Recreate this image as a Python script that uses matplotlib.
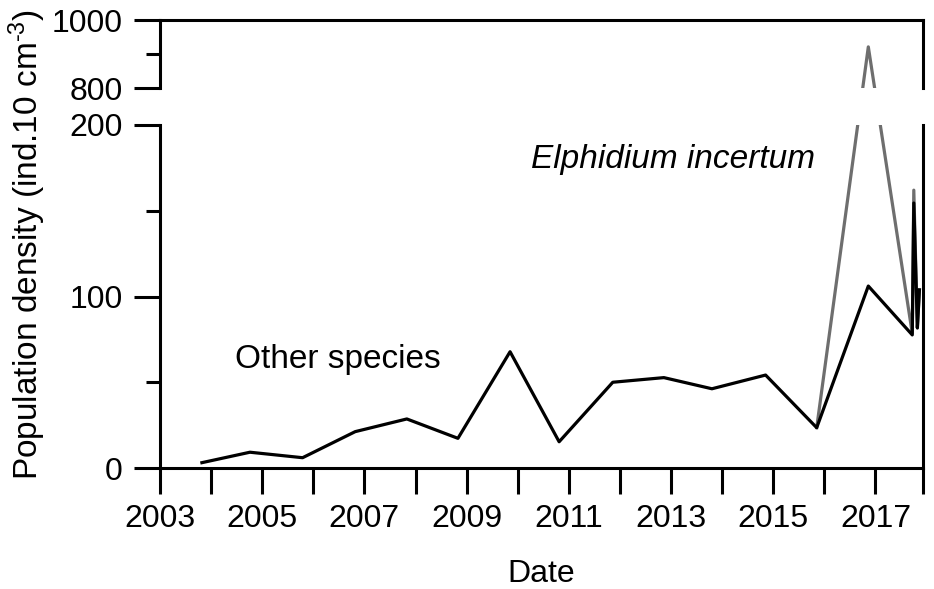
#!/usr/bin/env python3
"""Broken-axis population density time series (Other species vs Elphidium incertum)."""

import matplotlib
matplotlib.use("Agg")
import matplotlib.pyplot as plt
import numpy as np
from matplotlib.ticker import FixedLocator

plt.rcParams["font.family"] = ["Liberation Sans", "DejaVu Sans"]
plt.rcParams["mathtext.fontset"] = "custom"
plt.rcParams["mathtext.rm"] = "Liberation Sans"
plt.rcParams["mathtext.it"] = "Liberation Sans:italic"

# Sampling dates (decimal years) and densities (ind.10 cm-3)
other_dates = [2003.82, 2004.76, 2005.79, 2006.82, 2007.83, 2008.83, 2009.85,
               2010.81, 2011.86, 2012.86, 2013.80, 2014.85, 2015.85, 2016.86,
               2017.72, 2017.75, 2017.82, 2017.86]
other_density = [3.1, 9.2, 6.0, 21.2, 28.6, 17.3, 67.8, 15.3, 50.0, 52.7,
                 46.2, 54.2, 23.5, 106.1, 77.6, 154.5, 81.6, 103.8]

total_dates = [2015.85, 2016.86, 2017.72, 2017.75, 2017.82, 2017.86]
total_density = [23.5, 921.0, 78.5, 162.0, 82.0, 104.0]

year_ticks = list(range(2003, 2018))
year_labels = [str(y) if y % 2 == 1 else "" for y in year_ticks]
x_end = 2017.93

LW = 2.3
GREY = "#6e6e6e"
FS_TICK = 23
FS_LABEL = 23
FS_NOTE = 24

# pixel geometry of the broken axis: 0-200 -> 343 px, gap 37 px, 800-1000 -> 68 px
LOW_PX, GAP_PX, HIGH_PX = 343.0, 37.0, 68.0


def fwd(v):
    v = np.asarray(v, dtype=float)
    return np.where(v <= 200, v * LOW_PX / 200,
                    np.where(v < 800, LOW_PX + (v - 200) * GAP_PX / 600,
                             LOW_PX + GAP_PX + (v - 800) * HIGH_PX / 200))


def inv(p):
    p = np.asarray(p, dtype=float)
    return np.where(p <= LOW_PX, p * 200 / LOW_PX,
                    np.where(p < LOW_PX + GAP_PX,
                             200 + (p - LOW_PX) * 600 / GAP_PX,
                             800 + (p - LOW_PX - GAP_PX) * 200 / HIGH_PX))


fig = plt.figure(figsize=(9.34, 5.89), dpi=100)
ax_top = fig.add_axes([160 / 934, 1 - 88 / 589, (923 - 160) / 934, 68 / 589])
ax_bot = fig.add_axes([160 / 934, 1 - 468 / 589, (923 - 160) / 934, 343 / 589])

for ax in (ax_top, ax_bot):
    ax.set_yscale("function", functions=(fwd, inv))
    ax.plot(total_dates, total_density, color=GREY, lw=LW, zorder=2)
    ax.plot(other_dates, other_density, color="black", lw=LW, zorder=3)
    ax.set_xlim(2003, x_end)
    for sp in ax.spines.values():
        sp.set_linewidth(2.2)

# top panel: 800-1000
ax_top.set_ylim(800, 1000)
ax_top.spines["bottom"].set_visible(False)
ax_top.yaxis.set_major_locator(FixedLocator([800, 1000]))
ax_top.yaxis.set_minor_locator(FixedLocator([900]))
ax_top.yaxis.set_major_formatter(lambda v, pos: f"{v:.0f}")
ax_top.yaxis.set_minor_formatter(lambda v, pos: "")
ax_top.tick_params(axis="x", which="both", bottom=False, labelbottom=False)

# bottom panel: 0-200
ax_bot.set_ylim(0, 200)
ax_bot.spines["top"].set_visible(False)
ax_bot.yaxis.set_major_locator(FixedLocator([0, 100, 200]))
ax_bot.yaxis.set_minor_locator(FixedLocator([50, 150]))
ax_bot.yaxis.set_major_formatter(lambda v, pos: f"{v:.0f}")
ax_bot.yaxis.set_minor_formatter(lambda v, pos: "")
ax_bot.xaxis.set_major_locator(FixedLocator(year_ticks + [x_end]))
ax_bot.set_xticklabels(year_labels + [""])
ax_bot.set_xlabel("Date", fontsize=FS_LABEL, labelpad=18)

for ax in (ax_top, ax_bot):
    ax.tick_params(axis="both", which="major", direction="out", length=19,
                   width=2.2, labelsize=FS_TICK)
    ax.tick_params(axis="y", which="minor", direction="out", length=10,
                   width=2.2)
    ax.tick_params(axis="x", which="major", pad=7)
    ax.tick_params(axis="y", which="major", pad=8)

ax_bot.text(2013.03, 179.6, "Elphidium incertum", style="italic",
            fontsize=FS_NOTE, ha="center", va="center")
ax_bot.text(2006.49, 63, "Other species", fontsize=FS_NOTE,
            ha="center", va="center")

fig.text(27 / 934, 1 - 245 / 589, "Population density (ind.10 cm$^{\u2010 3}$)",
         rotation=90, fontsize=24, ha="center", va="center")

fig.savefig("out.png", dpi=100)
